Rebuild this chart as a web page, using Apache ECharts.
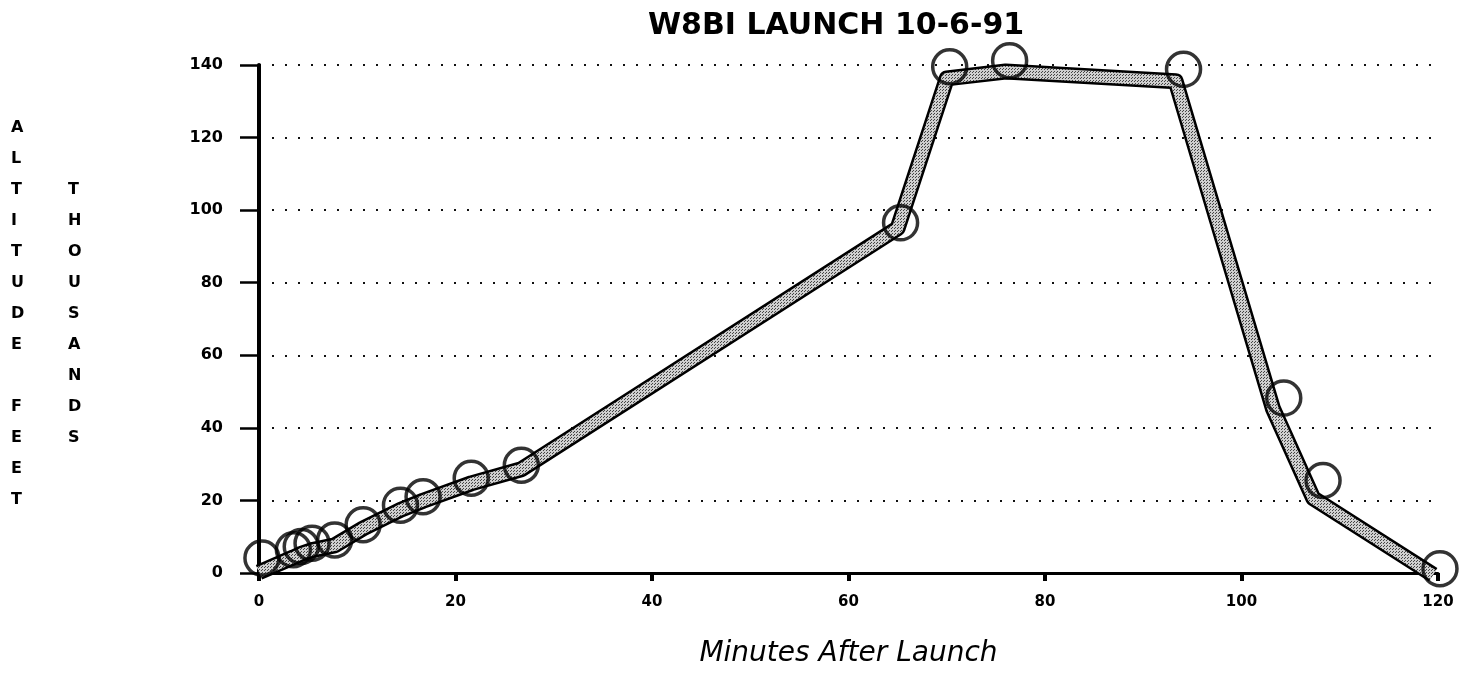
<!DOCTYPE html>
<html>
<head>
<meta charset="utf-8">
<script src="https://cdn.jsdelivr.net/npm/echarts@6/dist/echarts.min.js"></script>
<style>
html,body{margin:0;padding:0;background:#fff;}
#chart{width:1461px;height:673px;}
</style>
</head>
<body>
<div id="chart"></div>
<script>
// ---- data ----
const titleText = "W8BI LAUNCH 10-6-91";
const xAxisTitle = "Minutes After Launch";
const sideLabel1 = "ALTITUDE FEET";
const sideLabel2 = "THOUSANDS";
const yTicks = [0, 20, 40, 60, 80, 100, 120, 140];
const xTicks = [0, 20, 40, 60, 80, 100, 120];

// observed readings (circles)
const obsMinutes  = [0.3, 3.5, 4.3, 5.4, 7.7, 10.6, 14.4, 16.7, 21.6, 26.7, 65.3, 70.3, 76.4, 94.1, 104.3, 108.3, 120.2];
const obsAltitude = [4.1, 6.4, 7.3, 8.2, 9.1, 13.3, 18.7, 21.0, 26.1, 29.7, 96.5, 139.5, 141.2, 138.8, 48.2, 25.5, 1.2];

// plotted track (thick band)
const trackMinutes  = [0, 3.5, 4.3, 5.4, 7.7, 10.6, 14.4, 16.7, 21.6, 26.7, 65.0, 70.0, 76.0, 93.3, 103.2, 107.3, 119.5];
const trackAltitude = [0.2, 4.3, 5.3, 6.3, 7.6, 12.3, 17.4, 19.9, 24.7, 28.6, 95.0, 136.3, 138.2, 135.5, 45.3, 20.6, -0.5];

const obsData = obsMinutes.map((m, i) => [m, obsAltitude[i]]);
const trackData = trackMinutes.map((m, i) => [m, trackAltitude[i]]);

// stipple pattern for band
const pc = document.createElement('canvas');
pc.width = 3; pc.height = 3;
const pctx = pc.getContext('2d');
pctx.fillStyle = '#cfcfcf';
pctx.fillRect(0, 0, 3, 3);
pctx.fillStyle = '#444';
pctx.fillRect(0, 0, 1, 1);
pctx.fillRect(1, 2, 1, 1);

const chart = echarts.init(document.getElementById('chart'), null, {renderer: 'canvas'});
const FONT = "'DejaVu Sans', 'Liberation Sans', sans-serif";

chart.setOption({
  backgroundColor: '#fff',
  animation: false,
  title: {
    text: titleText,
    left: 648, top: 11, padding: 0,
    textStyle: {fontFamily: FONT, fontWeight: 'bold', fontSize: 30, color: '#000'}
  },
  grid: {left: 259, right: 23, top: 65, bottom: 97, containLabel: false},
  xAxis: {
    type: 'value', min: 0, max: 120, interval: 20,
    name: xAxisTitle, nameLocation: 'middle', nameGap: 67,
    nameTextStyle: {fontFamily: FONT, fontStyle: 'italic', fontSize: 28, color: '#000'},
    axisLine: {show: true, onZero: false, lineStyle: {color: '#000', width: 3}},
    axisTick: {show: true, length: 8, lineStyle: {color: '#000', width: 4}},
    axisLabel: {margin: 22, fontFamily: FONT, fontWeight: 'bold', fontSize: 15, color: '#000',
      formatter: v => xTicks.includes(v) ? String(v) : ''},
    splitLine: {show: false}
  },
  yAxis: {
    type: 'value', min: 0, max: 140, interval: 20,
    axisLine: {show: true, lineStyle: {color: '#000', width: 4}},
    axisTick: {show: true, length: 19, lineStyle: {color: '#000', width: 2.5}},
    axisLabel: {margin: 36, fontFamily: FONT, fontWeight: 'bold', fontSize: 16, color: '#000',
      formatter: v => yTicks.includes(v) ? String(v) : ''},
    splitLine: {show: true, lineStyle: {color: '#111', width: 2, type: [2, 11]}}
  },
  graphic: [
    {type: 'text', left: 11, top: 112,
      style: {text: sideLabel1.split('').join('\n'), font: "bold 16px 'DejaVu Sans'", lineHeight: 31, fill: '#000', align: 'center'}},
    {type: 'text', left: 68, top: 174,
      style: {text: sideLabel2.split('').join('\n'), font: "bold 16px 'DejaVu Sans'", lineHeight: 31, fill: '#000', align: 'center'}}
  ],
  series: [
    {type: 'line', data: trackData, showSymbol: false, silent: true, z: 2, clip: false,
      lineStyle: {color: '#000', width: 16, join: 'round', cap: 'butt'}},
    {type: 'line', data: trackData, showSymbol: false, silent: true, z: 3, clip: false,
      lineStyle: {color: {image: pc, repeat: 'repeat'}, width: 11, join: 'round', cap: 'butt'}},
    {type: 'scatter', data: obsData, symbol: 'circle', symbolSize: 34, z: 4, clip: false,
      itemStyle: {color: 'rgba(0,0,0,0)', borderColor: '#000', borderWidth: 3.5}}
  ]
});
</script>
</body>
</html>
